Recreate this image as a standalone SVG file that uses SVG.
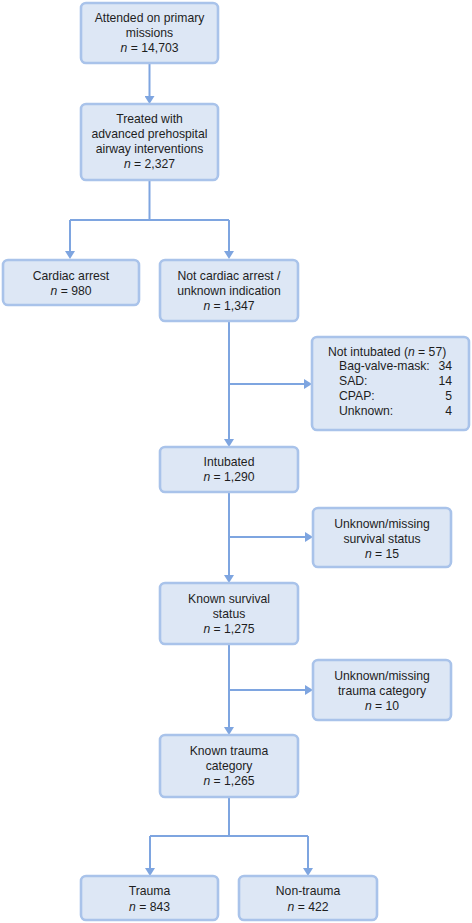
<svg xmlns="http://www.w3.org/2000/svg" width="472" height="923" viewBox="0 0 472 923">
<defs>
<marker id="ah" viewBox="0 0 8 10" markerWidth="8" markerHeight="10" refX="1" refY="5" orient="auto" markerUnits="userSpaceOnUse">
<path d="M0,0 L8,5 L0,10 z" fill="#7ea5e0"/>
</marker>
</defs>
<style>
rect.b{fill:#dde7f5;stroke:#a9c3ea;stroke-width:2.6}
text{font-family:"Liberation Sans",Arial,Helvetica,sans-serif;font-size:12.2px;fill:#1e1e1e}
text.c{text-anchor:middle}
tspan.i{font-style:italic}
.cn path{fill:none;stroke:#7ea5e0;stroke-width:2}
</style>
<rect width="472" height="923" fill="#ffffff"/>
<g class="cn" id="connectors">
<path d="M149.5 63 V97" marker-end="url(#ah)"/>
<path d="M149.5 180 V220"/>
<path d="M70 220 H229"/>
<path d="M70 220 V252" marker-end="url(#ah)"/>
<path d="M229 220 V252" marker-end="url(#ah)"/>
<path d="M229 321 V440" marker-end="url(#ah)"/>
<path d="M229 384 H305" marker-end="url(#ah)"/>
<path d="M229 492 V576" marker-end="url(#ah)"/>
<path d="M229 537 H306" marker-end="url(#ah)"/>
<path d="M229 644 V728" marker-end="url(#ah)"/>
<path d="M229 690 H306" marker-end="url(#ah)"/>
<path d="M229 797 V836"/>
<path d="M150 836 H308"/>
<path d="M150 836 V869" marker-end="url(#ah)"/>
<path d="M308 836 V869" marker-end="url(#ah)"/>
</g>
<g id="n1"><rect class="b" x="81" y="3" width="137" height="60" rx="5"/>
<text class="c" x="149.5" y="21.5">Attended on primary</text>
<text class="c" x="149.5" y="36.5">missions</text>
<text class="c" x="149.5" y="51.5"><tspan class="i">n</tspan> = 14,703</text></g>
<g id="n2"><rect class="b" x="81" y="104" width="137" height="76" rx="5"/>
<text class="c" x="149.5" y="122.5">Treated with</text>
<text class="c" x="149.5" y="137.5">advanced prehospital</text>
<text class="c" x="149.5" y="152.5">airway interventions</text>
<text class="c" x="149.5" y="167.5"><tspan class="i">n</tspan> = 2,327</text></g>
<g id="n3"><rect class="b" x="3" y="260" width="136" height="45" rx="5"/>
<text class="c" x="71" y="279.5">Cardiac arrest</text>
<text class="c" x="71" y="294.5"><tspan class="i">n</tspan> = 980</text></g>
<g id="n4"><rect class="b" x="160" y="260" width="138" height="61" rx="5"/>
<text class="c" x="229" y="279.5">Not cardiac arrest /</text>
<text class="c" x="229" y="294.5">unknown indication</text>
<text class="c" x="229" y="309.5"><tspan class="i">n</tspan> = 1,347</text></g>
<g id="n5"><rect class="b" x="312" y="337" width="157" height="93" rx="5"/>
<text x="328" y="355.5">Not intubated (<tspan class="i">n</tspan> = 57)</text>
<text x="339" y="370">Bag-valve-mask:</text><text x="452" y="370" text-anchor="end">34</text>
<text x="339" y="385">SAD:</text><text x="452" y="385" text-anchor="end">14</text>
<text x="339" y="400">CPAP:</text><text x="452" y="400" text-anchor="end">5</text>
<text x="339" y="415">Unknown:</text><text x="452" y="415" text-anchor="end">4</text></g>
<g id="n6"><rect class="b" x="160" y="447" width="138" height="45" rx="5"/>
<text class="c" x="229" y="466">Intubated</text>
<text class="c" x="229" y="481"><tspan class="i">n</tspan> = 1,290</text></g>
<g id="n7"><rect class="b" x="313" y="508" width="138" height="59" rx="5"/>
<text class="c" x="382" y="527.5">Unknown/missing</text>
<text class="c" x="382" y="542.5">survival status</text>
<text class="c" x="382" y="557.5"><tspan class="i">n</tspan> = 15</text></g>
<g id="n8"><rect class="b" x="160" y="583" width="138" height="61" rx="5"/>
<text class="c" x="229" y="602.5">Known survival</text>
<text class="c" x="229" y="617.5">status</text>
<text class="c" x="229" y="632.5"><tspan class="i">n</tspan> = 1,275</text></g>
<g id="n9"><rect class="b" x="313" y="660" width="138" height="60" rx="5"/>
<text class="c" x="382" y="679.5">Unknown/missing</text>
<text class="c" x="382" y="694.5">trauma category</text>
<text class="c" x="382" y="709.5"><tspan class="i">n</tspan> = 10</text></g>
<g id="n10"><rect class="b" x="160" y="735" width="138" height="62" rx="5"/>
<text class="c" x="229" y="755">Known trauma</text>
<text class="c" x="229" y="770">category</text>
<text class="c" x="229" y="785"><tspan class="i">n</tspan> = 1,265</text></g>
<g id="n11"><rect class="b" x="81" y="876" width="137" height="44" rx="5"/>
<text class="c" x="149.5" y="895">Trauma</text>
<text class="c" x="149.5" y="910.5"><tspan class="i">n</tspan> = 843</text></g>
<g id="n12"><rect class="b" x="239" y="876" width="138" height="44" rx="5"/>
<text class="c" x="308" y="895">Non-trauma</text>
<text class="c" x="308" y="910.5"><tspan class="i">n</tspan> = 422</text></g>
</svg>
